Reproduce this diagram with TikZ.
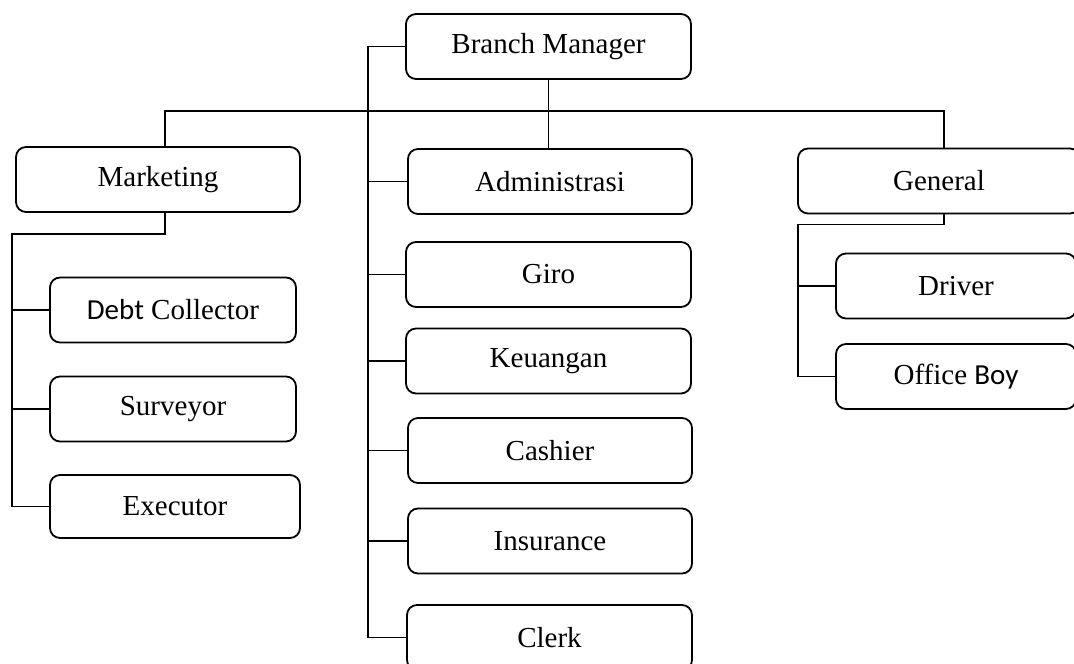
\documentclass[tikz,border=0pt]{standalone}
\usepackage{fontspec}
\setmainfont{Liberation Serif}
\newfontfamily\calib{Carlito}
\usetikzlibrary{positioning}

\begin{document}
\begin{tikzpicture}[x=1pt, y=-1pt, line width=1.8pt]
    \tikzset{unit/.style = {rectangle, draw, rounded corners=10pt, minimum height=65pt, inner sep=0pt, font=\fontsize{29}{34}\selectfont}}
    \tikzset{link/.style = {draw, line width=1.8pt}}
    \clip (0,0) rectangle (1074,664);

    % Top and heads
    \node [unit, minimum width=285pt] (bm) at (548.5,46.5) {Branch Manager};
    \node [unit, minimum width=284pt] (mkt) at (158,179.5) {Marketing};
    \node [unit, minimum width=284pt] (admin) at (550,181.5) {Administrasi};
    \node [unit, minimum width=282pt] (gen) at (939,181) {General};

    % Marketing staff
    \node [unit, minimum width=246pt] (debt) at (173,310) {{\calib Debt} Collector};
    \node [unit, minimum width=246pt] (surv) at (173,409) {Surveyor};
    \node [unit, minimum width=250pt, minimum height=63pt] (exe) at (175,506.5) {Executor};

    % Administrasi staff
    \node [unit, minimum width=285pt] (giro) at (548.5,274.5) {Giro};
    \node [unit, minimum width=285pt] (keu) at (548.5,361) {Keuangan};
    \node [unit, minimum width=284pt] (cash) at (550,450.5) {Cashier};
    \node [unit, minimum width=284pt] (ins) at (550,541) {Insurance};
    \node [unit, minimum width=285pt] (clerk) at (549.5,637.5) {Clerk};

    % General staff
    \node [unit, minimum width=240pt] (driver) at (956,286) {Driver};
    \node [unit, minimum width=240pt] (oboy) at (956,376.5) {Office {\calib Boy}};

    % Trunks
    \coordinate (busL) at (165,111);
    \coordinate (busR) at (944,111);
    \coordinate (ctrunk) at (368,0);
    \coordinate (mtrunk) at (12,0);
    \coordinate (gtrunk) at (798,0);

    % Connections
    \draw [link] (busL |- mkt.north) |- (busR) -- (busR |- gen.north);
    \draw [link] (bm.south) -- (bm.south |- admin.north);
    \draw [link] (bm.west) -| (ctrunk |- clerk.west) -- (clerk.west);
    \foreach \n in {admin, giro, keu, cash, ins}
        \draw [link] (ctrunk |- \n.west) -- (\n.west);
    \draw [link] (busL |- mkt.south) -- ++(0,21) -| (mtrunk |- exe.west) -- (exe.west);
    \foreach \n in {debt, surv}
        \draw [link] (mtrunk |- \n.west) -- (\n.west);
    \draw [link] (busR |- gen.south) -- ++(0,10) -| (gtrunk |- oboy.west) -- (oboy.west);
    \draw [link] (gtrunk |- driver.west) -- (driver.west);
\end{tikzpicture}
\end{document}
